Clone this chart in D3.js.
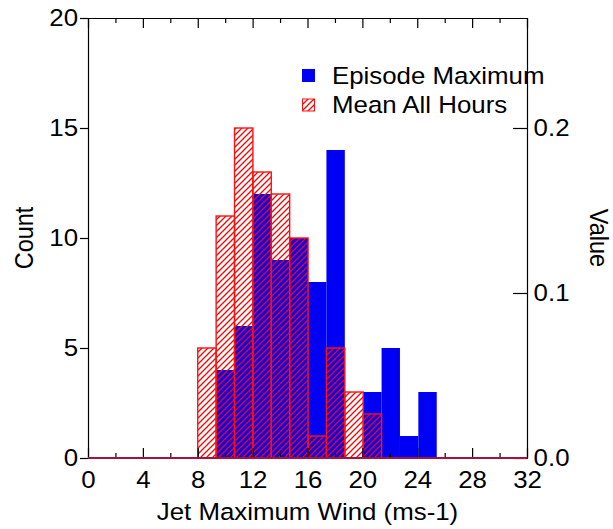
<!DOCTYPE html>
<html>
<head>
<meta charset="utf-8">
<script src="https://cdn.jsdelivr.net/npm/d3@7"></script>
<style>
body { margin: 0; background: #fff; }
text { font-family: "Liberation Sans", Arial, sans-serif; fill: #000; }
</style>
</head>
<body>
<div id="chart"></div>
<script>
// bins (lower edges plus the last upper edge)
var binEdges = [8, 9.34, 10.68, 12.02, 13.36, 14.70, 16.04, 17.38, 18.72, 20.06, 21.40, 22.74, 24.08, 25.42];
var episodeMax = [0, 4, 6, 12, 9, 10, 8, 14, 0, 3, 5, 1, 3];
var meanAllHours = [5, 11, 15, 13, 12, 10, 1, 5, 3, 2, 0, 0, 0];

var xTicks = [0, 4, 8, 12, 16, 20, 24, 28, 32];
var xMinorTicks = [2, 6, 10, 14, 18, 22, 26, 30];
var countTicks = [0, 5, 10, 15, 20];
var valueTicks = [0, 0.1, 0.2];
var legendLabels = ["Episode Maximum", "Mean All Hours"];

var svgWidth = 613;
var svgHeight = 529;
var margin = { top: 18, right: 86, bottom: 71, left: 88 };
var width = svgWidth - margin.left - margin.right;
var height = svgHeight - margin.top - margin.bottom;
var fontSize = 23.5;
var stretch = "scale(1.1,1)";

var svg = d3.select("#chart")
    .append("svg")
    .attr("width", svgWidth)
    .attr("height", svgHeight);

var defs = svg.append("defs");
var hatch = defs.append("pattern")
    .attr("id", "hatch")
    .attr("patternUnits", "userSpaceOnUse")
    .attr("width", 6)
    .attr("height", 6);
hatch.append("path")
    .attr("d", "M0,6 L6,0 M-1,1 L1,-1 M5,7 L7,5")
    .attr("stroke", "#ff0000")
    .attr("stroke-width", 1.3);

var chartGroup = svg.append("g")
    .attr("transform", `translate(${margin.left}, ${margin.top})`);

var xScale = d3.scaleLinear().domain([0, 32]).range([0, width]);
var yScale = d3.scaleLinear().domain([0, 20]).range([height, 0]);
// right axis: 0.2 lines up with a count of 15
var vScale = d3.scaleLinear().domain([0, 20 * 0.2 / 15]).range([height, 0]);

function binData(values) {
    return values.map(function(v, i) {
        return { x0: binEdges[i], x1: binEdges[i + 1], v: v };
    }).filter(d => d.v > 0);
}

// blue filled histogram
chartGroup.selectAll(".blueBar")
    .data(binData(episodeMax))
    .enter()
    .append("rect")
    .attr("class", "blueBar")
    .attr("x", d => xScale(d.x0))
    .attr("y", d => yScale(d.v))
    .attr("width", d => xScale(d.x1) - xScale(d.x0))
    .attr("height", d => yScale(0) - yScale(d.v))
    .attr("fill", "#0000f4");

// red hatched histogram drawn on top
chartGroup.selectAll(".redBar")
    .data(binData(meanAllHours))
    .enter()
    .append("rect")
    .attr("class", "redBar")
    .attr("x", d => xScale(d.x0))
    .attr("y", d => yScale(d.v))
    .attr("width", d => xScale(d.x1) - xScale(d.x0))
    .attr("height", d => yScale(0) - yScale(d.v))
    .attr("fill", "url(#hatch)")
    .attr("stroke", "#ff1010")
    .attr("stroke-width", 1.4);

// axes
var bottomAxis = chartGroup.append("g")
    .attr("transform", `translate(0, ${height})`)
    .call(d3.axisBottom(xScale).tickValues(xTicks).tickSize(-10).tickSizeOuter(0).tickPadding(13));
var bottomMinor = chartGroup.append("g")
    .attr("transform", `translate(0, ${height})`)
    .call(d3.axisBottom(xScale).tickValues(xMinorTicks).tickSize(-5).tickSizeOuter(0).tickFormat(""));
var topAxis = chartGroup.append("g")
    .call(d3.axisTop(xScale).tickValues(xTicks).tickSize(-10).tickSizeOuter(0).tickFormat(""));
var topMinor = chartGroup.append("g")
    .call(d3.axisTop(xScale).tickValues(xMinorTicks).tickSize(-5).tickSizeOuter(0).tickFormat(""));
var leftAxis = chartGroup.append("g")
    .call(d3.axisLeft(yScale).tickValues(countTicks).tickSize(8).tickSizeOuter(0).tickPadding(1));
var rightAxis = chartGroup.append("g")
    .attr("transform", `translate(${width}, 0)`)
    .call(d3.axisRight(vScale).tickValues(valueTicks).tickSize(-14).tickSizeOuter(0).tickPadding(6).tickFormat(d3.format(".1f")));

chartGroup.selectAll(".domain, .tick line").attr("stroke", "#000").attr("stroke-width", 1.2);
chartGroup.selectAll(".tick text")
    .attr("font-size", fontSize)
    .attr("font-family", "Liberation Sans, Arial, sans-serif")
    .attr("transform", stretch);

// zero line of the histograms
chartGroup.append("line")
    .attr("x1", 0)
    .attr("x2", width)
    .attr("y1", yScale(0))
    .attr("y2", yScale(0))
    .attr("stroke", "#a8103e")
    .attr("stroke-width", 2.2);

// axis titles
svg.append("text")
    .attr("transform", `translate(${margin.left + width / 2}, 520) ${stretch}`)
    .attr("text-anchor", "middle")
    .attr("font-size", fontSize)
    .text("Jet Maximum Wind (ms-1)");

svg.append("text")
    .attr("transform", `translate(33, ${margin.top + height / 2}) ${stretch} rotate(-90)`)
    .attr("text-anchor", "middle")
    .attr("font-size", fontSize)
    .text("Count");

svg.append("text")
    .attr("transform", `translate(590, ${margin.top + height / 2}) ${stretch} rotate(90)`)
    .attr("text-anchor", "middle")
    .attr("font-size", fontSize)
    .text("Value");

// legend
var legend = svg.append("g").attr("transform", "translate(302, 69)");
legend.append("rect")
    .attr("x", 0).attr("y", 0).attr("width", 13).attr("height", 13)
    .attr("fill", "#0000f4");
legend.append("rect")
    .attr("x", 0.5).attr("y", 30).attr("width", 12).attr("height", 12)
    .attr("fill", "url(#hatch)")
    .attr("stroke", "#ff1010")
    .attr("stroke-width", 1);
legend.selectAll(".legendText")
    .data(legendLabels)
    .enter()
    .append("text")
    .attr("class", "legendText")
    .attr("transform", (d, i) => `translate(30, ${15 + i * 29}) ${stretch}`)
    .attr("font-size", fontSize)
    .text(d => d);
</script>
</body>
</html>
